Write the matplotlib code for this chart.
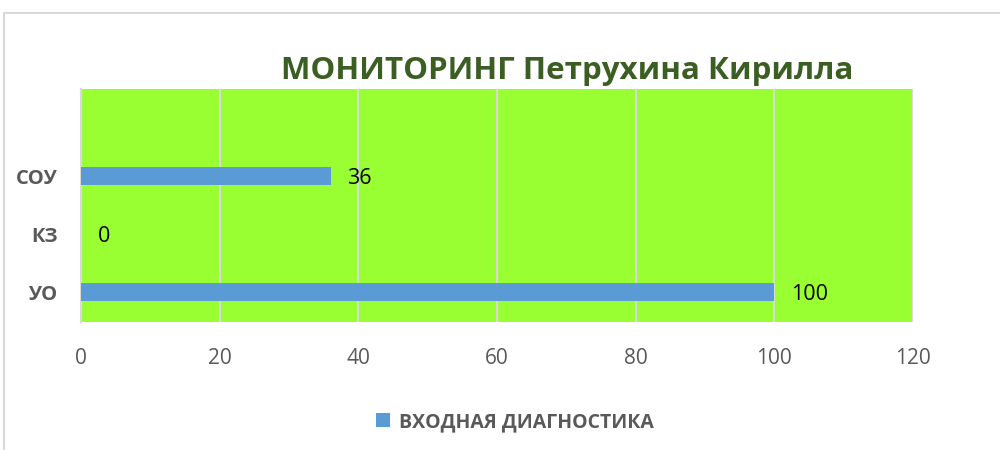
import matplotlib
matplotlib.use("Agg")
import matplotlib.pyplot as plt
from matplotlib.patches import Rectangle

categories = ["УО", "КЗ", "СОУ"]
values = [100, 0, 36]
series_name = "ВХОДНАЯ ДИАГНОСТИКА"
title = "МОНИТОРИНГ Петрухина Кирилла"
xticks = [0, 20, 40, 60, 80, 100, 120]

plt.rcParams['font.family'] = ['Open Sans', 'DejaVu Sans']

fig = plt.figure(figsize=(10, 4.5), dpi=100)
fig.patches.append(Rectangle((0.004, -0.1), 1.2, 1.071, transform=fig.transFigure,
                             fill=False, edgecolor='#d9d9d9', linewidth=1.5))
ax = fig.add_axes([0.081, 0.2844, 0.832, 0.5178])
ax.set_facecolor('#99ff33')

ypos = list(range(len(categories)))
bars = ax.barh(ypos, values, height=0.31, color='#5b9bd5', zorder=3, label=series_name)
for y, v in zip(ypos, values):
    ax.annotate(str(v), (v, y), xytext=(12, -2), textcoords='offset points',
                va='center', ha='left', fontsize=15.5, color='black', zorder=4)

ax.set_xlim(0, 120)
ax.set_ylim(-0.517, 3.5)
ax.set_xticks(xticks)
ax.set_xticklabels([str(t) for t in xticks], fontsize=15, color='#595959')
ax.set_yticks(ypos)
ax.set_yticklabels(categories, fontsize=14.5, color='#595959', fontweight='bold')
ax.tick_params(axis='both', length=0)
ax.tick_params(axis='x', pad=19)
ax.tick_params(axis='y', pad=17)
ax.grid(axis='x', color='#d9d9d9', linewidth=1.5, zorder=1)
for s in ['top', 'right', 'bottom']:
    ax.spines[s].set_visible(False)
ax.spines['left'].set_color('#d9d9d9')
ax.spines['left'].set_linewidth(1.5)

fig.text(0.567, 0.842, title, ha='center', va='center', fontsize=22.5,
         fontweight='bold', color='#3b5e22')

leg = fig.legend(handles=[bars], labels=[series_name], loc='center',
                 bbox_to_anchor=(0.515, 0.062), frameon=False, fontsize=14,
                 handlelength=0.75, handleheight=0.75, handletextpad=0.45)
for t in leg.get_texts():
    t.set_color('#595959')
    t.set_fontweight('bold')

fig.savefig('out.png', dpi=100)
